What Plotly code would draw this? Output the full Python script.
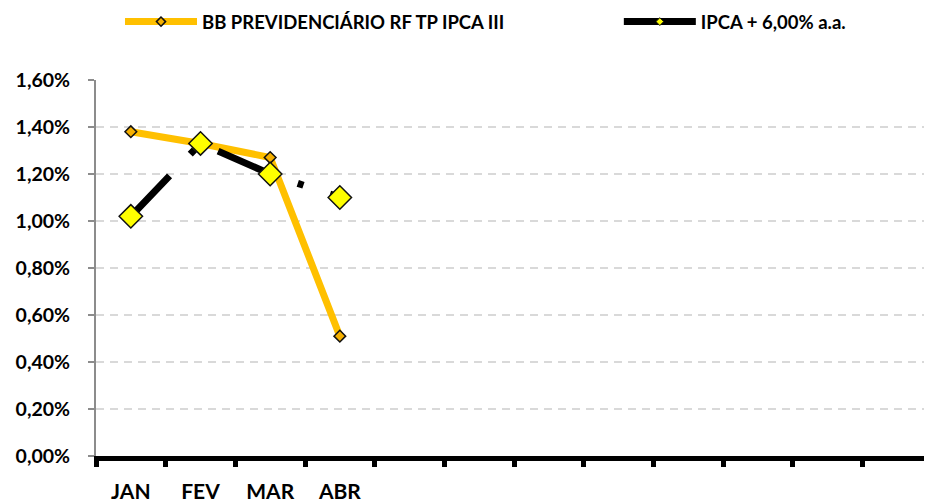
import plotly.graph_objects as go

MONTHS = ["JAN", "FEV", "MAR", "ABR", "MAI", "JUN", "JUL", "AGO", "SET", "OUT", "NOV", "DEZ"]
TICK_LABELS = ["JAN", "FEV", "MAR", "ABR", "", "", "", "", "", "", "", ""]
FUND_NAME = "BB PREVIDENCIÁRIO RF TP IPCA III"
BENCH_NAME = "IPCA + 6,00% a.a."
FUND_VALUES = [1.38, 1.33, 1.27, 0.51]
BENCH_VALUES = [1.02, 1.33, 1.20, 1.10]
Y_TICKS = [0, 0.2, 0.4, 0.6, 0.8, 1.0, 1.2, 1.4, 1.6]
Y_TICK_LABELS = ["0,00%", "0,20%", "0,40%", "0,60%", "0,80%", "1,00%", "1,20%", "1,40%", "1,60%"]

FONT = "Lato"
ORANGE = "#FFC000"
ORANGE_MK = "#F5B000"
YELLOW = "#FFFF00"

fig = go.Figure()
fig.add_trace(go.Scatter(
    x=MONTHS[:len(FUND_VALUES)], y=FUND_VALUES, mode="lines+markers",
    line=dict(color=ORANGE, width=7),
    marker=dict(symbol="diamond", size=9, color=ORANGE_MK, line=dict(color="#111111", width=1.5)),
    showlegend=False, name=FUND_NAME))
fig.add_trace(go.Scatter(
    x=MONTHS[:len(BENCH_VALUES)], y=BENCH_VALUES, mode="lines+markers",
    line=dict(color="#000000", width=7, dash="56px,30px,6px,28px"),
    marker=dict(symbol="diamond", size=18, color=YELLOW, line=dict(color="#111111", width=1.5)),
    showlegend=False, name=BENCH_NAME))
# legend entries
fig.add_trace(go.Scatter(
    x=[None], y=[None], mode="lines+markers", name=FUND_NAME, legend="legend",
    line=dict(color=ORANGE, width=7),
    marker=dict(symbol="diamond", size=7, color=ORANGE_MK, line=dict(color="#111111", width=1.5))))
fig.add_trace(go.Scatter(
    x=[None], y=[None], mode="lines+markers", name=BENCH_NAME, legend="legend2",
    line=dict(color="#000000", width=7),
    marker=dict(symbol="diamond", size=6, color=YELLOW, line=dict(color="#111111", width=1))))

legend_common = dict(
    orientation="h", xanchor="left", y=1.154, yanchor="middle",
    itemwidth=72,
    font=dict(family=FONT, size=18.5, color="#000000", weight="bold"),
    bgcolor="rgba(0,0,0,0)", borderwidth=0,
)

# the page adds an 8px body margin, so the figure is 8px smaller than the window
fig.update_layout(
    width=924, height=494,
    margin=dict(l=88, r=0, t=72, b=46, autoexpand=False),
    paper_bgcolor="white", plot_bgcolor="white",
    separators=",.",
    font=dict(family=FONT, color="#000000"),
    legend=dict(x=0.0287, **legend_common),
    legend2=dict(x=0.6254, **legend_common),
    xaxis=dict(
        type="category", categoryorder="array", categoryarray=MONTHS,
        range=[-0.5, len(MONTHS) - 0.5],
        tickmode="array", tickvals=MONTHS, ticktext=TICK_LABELS,
        tickson="boundaries", ticks="outside", ticklen=6, tickwidth=5, tickcolor="#000000",
        showline=True, linecolor="#000000", linewidth=5,
        showgrid=False, zeroline=False,
        tickfont=dict(family=FONT, size=21, color="#000000", weight="bold"),
        ticklabelstandoff=13,
    ),
    yaxis=dict(
        range=[0, 1.6], tickmode="array", tickvals=Y_TICKS, ticktext=Y_TICK_LABELS,
        ticks="outside", ticklen=6, tickwidth=1.5, tickcolor="#8C8C8C",
        showline=True, linecolor="#8C8C8C", linewidth=2,
        showgrid=True, gridcolor="#D9D9D9", gridwidth=2, griddash="8px,6px",
        zeroline=False,
        tickfont=dict(family=FONT, size=19.5, color="#000000", weight="bold"),
        ticklabelstandoff=14,
    ),
)

fig.write_html("out.html")
